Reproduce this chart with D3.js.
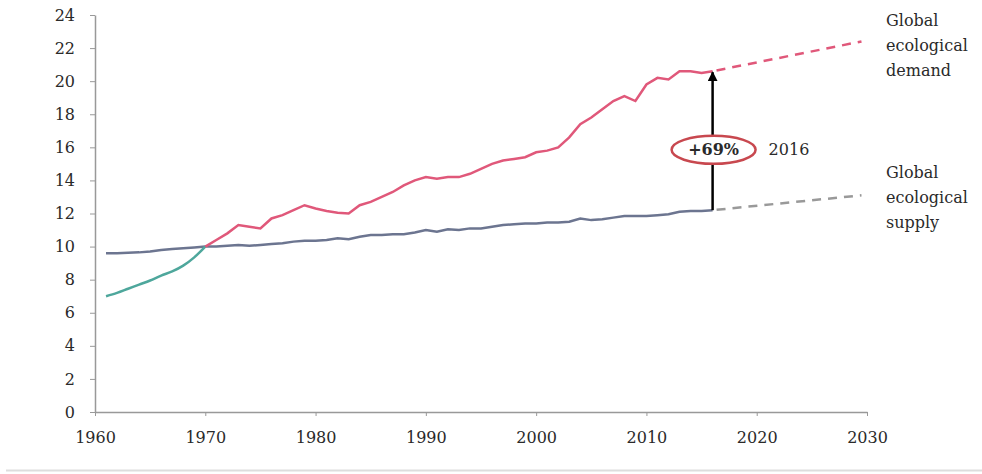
<!DOCTYPE html>
<html lang="en">
<head>
  <meta charset="UTF-8">
  <title>Global ecological demand vs supply</title>
  <style>
    body { margin: 0; background: #fff; }
    text { font-family: "DejaVu Serif", serif; fill: #2a2a2a; }
  </style>
</head>
<body>
  <script src="https://d3js.org/d3.v7.min.js"></script>
  <script>
    const years = d3.range(1961, 2017);
    const demand = [7.0, 7.2, 7.45, 7.7, 7.95, 8.25, 8.5, 8.85, 9.35, 10.0,
      10.4, 10.8, 11.3, 11.2, 11.1, 11.7, 11.9, 12.2, 12.5, 12.3,
      12.15, 12.05, 12.0, 12.5, 12.7, 13.0, 13.3, 13.7, 14.0, 14.2,
      14.1, 14.2, 14.2, 14.4, 14.7, 15.0, 15.2, 15.3, 15.4, 15.7,
      15.8, 16.0, 16.6, 17.4, 17.8, 18.3, 18.8, 19.1, 18.8, 19.8,
      20.2, 20.1, 20.6, 20.6, 20.5, 20.6];
    const supply = [9.6, 9.6, 9.62, 9.65, 9.7, 9.8, 9.85, 9.9, 9.95, 10.0,
      10.0, 10.05, 10.1, 10.05, 10.1, 10.15, 10.2, 10.3, 10.35, 10.35,
      10.4, 10.5, 10.45, 10.6, 10.7, 10.7, 10.75, 10.75, 10.85, 11.0,
      10.9, 11.05, 11.0, 11.1, 11.1, 11.2, 11.3, 11.35, 11.4, 11.4,
      11.45, 11.45, 11.5, 11.7, 11.6, 11.65, 11.75, 11.85, 11.85, 11.85,
      11.9, 11.95, 12.1, 12.15, 12.15, 12.2];
    const projYears = [2016, 2029.5];
    const demandProj = [20.6, 22.4];
    const supplyProj = [12.2, 13.1];
    const crossYear = 1970;
    const xTicks = [1960, 1970, 1980, 1990, 2000, 2010, 2020, 2030];
    const yTicks = d3.range(0, 25, 2);
    const demandLabel = ['Global', 'ecological', 'demand'];
    const supplyLabel = ['Global', 'ecological', 'supply'];
    const gapLabel = '+69%';
    const gapYear = '2016';

    const width = 982, height = 474;
    const margin = { top: 15, right: 115, bottom: 62, left: 95 };

    const redColor = '#e0587a';
    const tealColor = '#4ea79c';
    const supplyColor = '#6c7590';
    const axisColor = '#999';

    const svg = d3.select('body').append('svg')
      .attr('width', width)
      .attr('height', height);

    // bottom strip
    svg.append('line')
      .attr('x1', 6).attr('x2', width)
      .attr('y1', 470.5).attr('y2', 470.5)
      .attr('stroke', '#ddd').attr('stroke-width', 2);

    const x = d3.scaleLinear().domain([1960, 2030]).range([margin.left, width - margin.right]);
    const y = d3.scaleLinear().domain([0, 24]).range([height - margin.bottom, margin.top]);

    // axes
    const xAxis = svg.append('g')
      .attr('transform', `translate(0,${height - margin.bottom})`)
      .call(d3.axisBottom(x).tickValues(xTicks).tickFormat(d3.format('d')).tickSize(4).tickSizeOuter(0).tickPadding(16));
    const yAxis = svg.append('g')
      .attr('transform', `translate(${margin.left},0)`)
      .call(d3.axisLeft(y).tickValues(yTicks).tickSize(5).tickSizeOuter(0).tickPadding(15));
    [xAxis, yAxis].forEach(g => {
      g.select('.domain').attr('stroke', axisColor).attr('stroke-width', 1.5);
      g.selectAll('.tick line').attr('stroke', axisColor);
      g.selectAll('.tick text').attr('font-size', 16).attr('fill', '#2a2a2a');
    });

    const line = d3.line().x(d => x(d[0])).y(d => y(d[1]));
    const smooth = d3.line().curve(d3.curveMonotoneX).x(d => x(d[0])).y(d => y(d[1]));
    const demandPts = years.map((yr, i) => [yr, demand[i]]);
    const supplyPts = years.map((yr, i) => [yr, supply[i]]);

    // supply
    svg.append('path').datum(supplyPts)
      .attr('d', line).attr('fill', 'none')
      .attr('stroke', supplyColor).attr('stroke-width', 2.5);

    // demand: teal while under supply, red afterwards
    svg.append('path').datum(demandPts.filter(d => d[0] <= crossYear))
      .attr('d', smooth).attr('fill', 'none')
      .attr('stroke', tealColor).attr('stroke-width', 2.5);
    svg.append('path').datum(demandPts.filter(d => d[0] >= crossYear))
      .attr('d', line).attr('fill', 'none')
      .attr('stroke', redColor).attr('stroke-width', 2.5);

    // projections
    svg.append('path').datum(projYears.map((yr, i) => [yr, demandProj[i]]))
      .attr('d', line).attr('fill', 'none')
      .attr('stroke', redColor).attr('stroke-width', 2.5)
      .attr('stroke-dasharray', '9,7').attr('stroke-dashoffset', -4);
    svg.append('path').datum(projYears.map((yr, i) => [yr, supplyProj[i]]))
      .attr('d', line).attr('fill', 'none')
      .attr('stroke', '#999').attr('stroke-width', 2.5)
      .attr('stroke-dasharray', '9,7').attr('stroke-dashoffset', -4);

    // gap arrow
    svg.append('defs').append('marker')
      .attr('id', 'arrow').attr('viewBox', '0 0 10 10')
      .attr('refX', 9).attr('refY', 5)
      .attr('markerWidth', 4).attr('markerHeight', 4)
      .attr('orient', 'auto')
      .append('path').attr('d', 'M0,0L10,5L0,10Z').attr('fill', '#000');
    const gx = x(2016);
    const last = years.length - 1;
    svg.append('line')
      .attr('x1', gx).attr('x2', gx)
      .attr('y1', y(supply[last])).attr('y2', y(demand[last]) + 1)
      .attr('stroke', '#000').attr('stroke-width', 2.5)
      .attr('marker-end', 'url(#arrow)');

    const gy = y(15.85);
    svg.append('ellipse')
      .attr('cx', gx + 1).attr('cy', gy).attr('rx', 42).attr('ry', 14)
      .attr('fill', '#fff').attr('stroke', '#c8484f').attr('stroke-width', 2.5);
    svg.append('text')
      .attr('x', gx + 1).attr('y', gy).attr('dy', '0.35em')
      .attr('text-anchor', 'middle').attr('font-size', 16).attr('font-weight', 'bold')
      .attr('fill', '#222')
      .text(gapLabel);
    svg.append('text')
      .attr('x', gx + 56).attr('y', gy).attr('dy', '0.35em')
      .attr('font-size', 16)
      .text(gapYear);

    // series labels
    const addLabel = (lines, top) => {
      const t = svg.append('text').attr('x', 886).attr('y', top).attr('font-size', 16);
      lines.forEach((s, i) => t.append('tspan').attr('x', 886).attr('dy', i ? 25 : 0).text(s));
    };
    addLabel(demandLabel, 26);
    addLabel(supplyLabel, 178);
  </script>
</body>
</html>
